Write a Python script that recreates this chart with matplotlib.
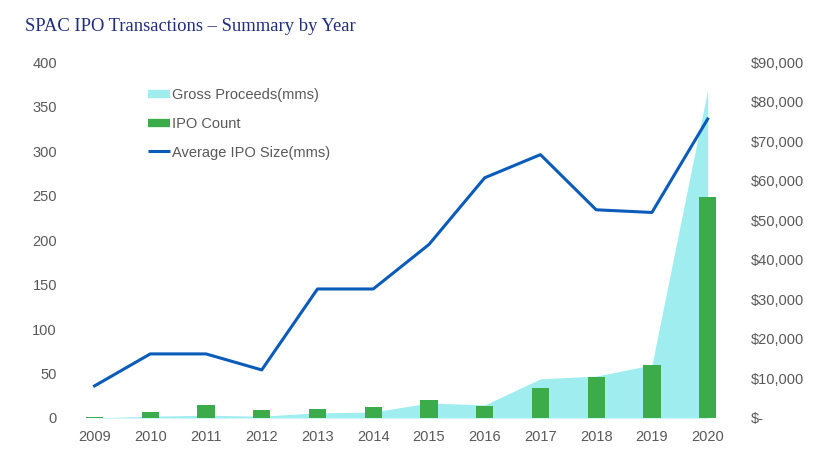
import numpy as np
import matplotlib
matplotlib.use("Agg")
from matplotlib import pyplot as plt
from matplotlib.lines import Line2D
from matplotlib.ticker import FuncFormatter


years = ["2009", "2010", "2011", "2012", "2013", "2014",
         "2015", "2016", "2017", "2018", "2019", "2020"]
ipo_count = [1, 7, 15, 9, 10, 12, 20, 13, 34, 46, 59, 248]
avg_ipo_size = [36, 72, 72, 54, 145, 145, 195, 270, 296, 234, 231, 336]
gross_proceeds = [36, 450, 700, 450, 1300, 1500, 3800, 3300, 9900, 10600, 13400, 83000]

AREA_COLOR = "#a0edf0"
BAR_COLOR = "#3cab4a"
LINE_COLOR = "#0a5bba"
TEXT_COLOR = "#595959"

plt.rcParams["font.family"] = ["Liberation Sans", "DejaVu Sans"]


def money(v, pos):
	if v == 0:
		return "$-"
	return "${:,.0f}".format(v)


def main():
	fig = plt.figure(figsize=(8.33, 4.67), dpi=100)
	# base axis holds the gross proceeds area
	ax = fig.add_axes([0.080, 0.105, 0.803, 0.762])
	x = np.arange(len(years))
	ax.fill_between(x, 0, gross_proceeds, color=AREA_COLOR, linewidth=0)
	ax.set_ylim(0, 90000)
	ax.set_yticks(np.arange(0, 90001, 10000))
	ax.yaxis.set_major_formatter(FuncFormatter(money))

	# twin axis for count bars and average size line (drawn on top)
	ax2 = ax.twinx()
	ax2.bar(x, ipo_count, width=0.31, color=BAR_COLOR, zorder=2)
	ax2.plot(x, avg_ipo_size, color=LINE_COLOR, linewidth=2.2, zorder=3)
	ax2.set_ylim(0, 400)
	ax2.set_yticks(np.arange(0, 401, 50))

	# swap sides: twinx puts the base axis on the left
	ax.yaxis.tick_right()
	ax2.yaxis.tick_left()

	ax.set_xlim(-0.5, len(years) - 0.5)
	ax.set_xticks(x)
	ax.set_xticklabels(years)

	for a in (ax, ax2):
		for s in a.spines.values():
			s.set_visible(False)
		a.tick_params(length=0, labelsize=10.5, labelcolor=TEXT_COLOR)
	ax.tick_params(axis="y", pad=11)
	ax2.tick_params(axis="y", pad=7)
	ax.tick_params(axis="x", pad=9)

	handles = [
		Line2D([], [], color=AREA_COLOR, linewidth=6, solid_capstyle="butt"),
		Line2D([], [], color=BAR_COLOR, linewidth=6, solid_capstyle="butt"),
		Line2D([], [], color=LINE_COLOR, linewidth=2.2, solid_capstyle="butt"),
	]
	labels = ["Gross Proceeds(mms)", "IPO Count", "Average IPO Size(mms)"]
	ax2.legend(handles, labels, loc="upper left", bbox_to_anchor=(0.1015, 0.963),
		frameon=False, fontsize=10.5, labelcolor=TEXT_COLOR, handlelength=1.5,
		handletextpad=0.2, labelspacing=1.0)

	fig.text(0.030, 0.943, "SPAC IPO Transactions \u2013 Summary by Year",
		fontsize=13.4, family="Liberation Serif", color="#1f2d7b", va="center")

	fig.savefig("out.png", dpi=100)


if __name__ == "__main__":
	main()
